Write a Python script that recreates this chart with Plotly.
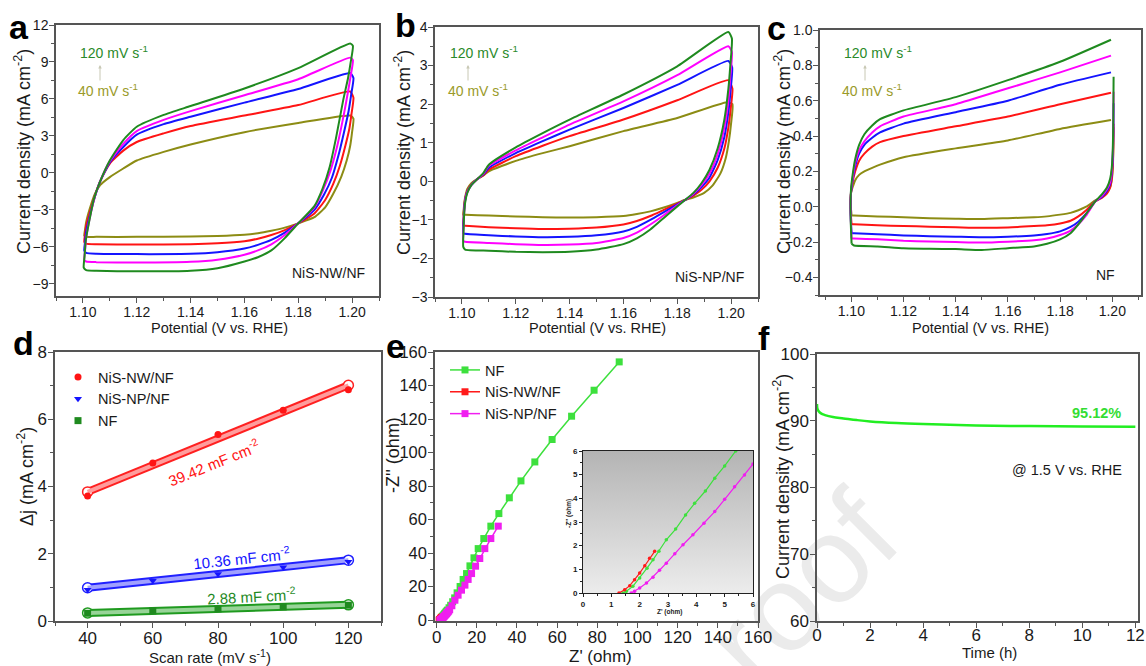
import plotly.graph_objects as go

W, H = 1146, 666
FONT = "Liberation Sans, Arial, sans-serif"

# ---------------- Panel a : NiS-NW/NF CV loops (V vs. RHE, mA cm-2) ----------------
a120_v = [1.1003, 1.1006, 1.101, 1.1015, 1.103, 1.104, 1.1064, 1.11, 1.115, 1.12, 1.13, 1.14, 1.16, 1.18, 1.1993,
          1.2003, 1.1995, 1.1985, 1.1967, 1.194, 1.1917, 1.189, 1.186, 1.18, 1.175, 1.17, 1.165, 1.16, 1.15, 1.14, 1.12, 1.105, 1.1012, 1.1003]
a120_j = [-7.7, -6.8, -5.6, -4.9, -3.2, -2.2, -0.7, 1.0, 2.66, 3.74, 4.7, 5.42, 6.85, 8.5, 10.5,
          10.3, 9.0, 7.7, 5.9, 2.8, 0.5, -1.3, -2.7, -4.1, -5.3, -6.3, -6.85, -7.2, -7.75, -7.95, -8.0, -7.95, -7.9, -7.7]
a100_v = [1.1005, 1.1008, 1.1012, 1.103, 1.1045, 1.1064, 1.11, 1.115, 1.12, 1.13, 1.14, 1.16, 1.18, 1.1993,
          1.2003, 1.1995, 1.1985, 1.197, 1.1945, 1.192, 1.189, 1.186, 1.18, 1.175, 1.17, 1.165, 1.16, 1.15, 1.14, 1.12, 1.105, 1.1012, 1.1005]
a100_j = [-7.1, -6.3, -5.3, -3.2, -1.9, -0.7, 0.95, 2.35, 3.39, 4.3, 5.01, 6.3, 7.6, 9.35,
          9.15, 7.9, 6.6, 4.8, 2.2, 0.2, -1.5, -2.8, -4.1, -5.05, -5.8, -6.3, -6.65, -7.05, -7.22, -7.28, -7.25, -7.2, -7.1]
a80_v = [1.1005, 1.1008, 1.1012, 1.103, 1.1045, 1.1064, 1.11, 1.115, 1.12, 1.13, 1.14, 1.16, 1.18, 1.1993,
         1.2005, 1.1997, 1.1987, 1.197, 1.1948, 1.1925, 1.1895, 1.186, 1.18, 1.175, 1.17, 1.165, 1.16, 1.15, 1.14, 1.12, 1.105, 1.1012, 1.1005]
a80_j = [-6.3, -5.6, -4.8, -3.1, -1.9, -0.7, 0.85, 2.1, 3.1, 3.95, 4.55, 5.7, 6.8, 8.1,
         7.7, 6.4, 5.0, 3.3, 1.3, -0.4, -1.8, -3.0, -4.1, -4.85, -5.45, -5.85, -6.15, -6.45, -6.58, -6.6, -6.58, -6.5, -6.3]
a60_v = [1.1005, 1.1008, 1.1012, 1.103, 1.1045, 1.1064, 1.11, 1.115, 1.12, 1.13, 1.14, 1.16, 1.18, 1.1993,
         1.2005, 1.1998, 1.199, 1.1975, 1.1955, 1.193, 1.19, 1.186, 1.18, 1.175, 1.17, 1.165, 1.16, 1.15, 1.14, 1.12, 1.105, 1.1012, 1.1005]
a60_j = [-5.6, -5.0, -4.3, -2.9, -1.8, -0.7, 0.75, 1.8, 2.5, 3.2, 3.8, 4.65, 5.5, 6.6,
         6.1, 4.8, 3.6, 2.2, 0.6, -0.9, -2.2, -3.3, -4.1, -4.65, -5.05, -5.35, -5.55, -5.72, -5.8, -5.82, -5.8, -5.75, -5.6]
a40_v = [1.1005, 1.1008, 1.1012, 1.103, 1.1045, 1.1064, 1.11, 1.115, 1.12, 1.13, 1.14, 1.16, 1.18, 1.1993,
         1.2005, 1.2, 1.1993, 1.198, 1.196, 1.193, 1.19, 1.186, 1.18, 1.175, 1.17, 1.165, 1.16, 1.15, 1.14, 1.12, 1.105, 1.1012, 1.1005]
a40_j = [-5.1, -4.6, -4.0, -2.6, -1.7, -1.0, -0.35, 0.35, 1.0, 1.7, 2.3, 3.3, 4.05, 4.65,
         4.4, 3.3, 2.2, 1.0, -0.3, -1.7, -2.8, -3.6, -4.1, -4.45, -4.7, -4.9, -5.02, -5.12, -5.17, -5.2, -5.2, -5.2, -5.1]

# ---------------- Panel b : NiS-NP/NF CV loops ----------------
b120_v = [1.1005, 1.1006, 1.1008, 1.1012, 1.102, 1.1035, 1.1056, 1.108, 1.11, 1.12, 1.13, 1.14, 1.16, 1.18, 1.199,
          1.2003, 1.1997, 1.199, 1.1975, 1.195, 1.192, 1.189, 1.186, 1.183, 1.18, 1.175, 1.17, 1.165, 1.16, 1.15, 1.14, 1.13, 1.12, 1.11, 1.1012, 1.1005]
b120_j = [-1.7, -1.3, -0.9, -0.55, -0.3, -0.1, 0.05, 0.22, 0.43, 0.88, 1.25, 1.6, 2.25, 2.98, 3.87,
          3.7, 3.0, 2.4, 1.6, 0.85, 0.3, -0.05, -0.3, -0.48, -0.65, -0.95, -1.25, -1.48, -1.63, -1.77, -1.83, -1.84, -1.83, -1.8, -1.77, -1.7]
b100_v = b120_v
b100_j = [-1.55, -1.2, -0.85, -0.5, -0.28, -0.1, 0.05, 0.2, 0.4, 0.8, 1.14, 1.47, 2.07, 2.75, 3.5,
          3.35, 2.7, 2.1, 1.4, 0.7, 0.2, -0.1, -0.32, -0.48, -0.62, -0.88, -1.12, -1.33, -1.47, -1.6, -1.64, -1.65, -1.63, -1.6, -1.57, -1.55]
b80_v = [1.1005, 1.1006, 1.1008, 1.1012, 1.102, 1.1035, 1.1056, 1.108, 1.11, 1.12, 1.13, 1.14, 1.16, 1.18, 1.199,
         1.2004, 1.1998, 1.199, 1.1975, 1.195, 1.192, 1.189, 1.186, 1.183, 1.18, 1.175, 1.17, 1.165, 1.16, 1.15, 1.14, 1.13, 1.12, 1.11, 1.1012, 1.1005]
b80_j = [-1.35, -1.05, -0.78, -0.48, -0.27, -0.1, 0.05, 0.18, 0.35, 0.73, 1.04, 1.34, 1.9, 2.5, 3.12,
         2.95, 2.35, 1.8, 1.15, 0.55, 0.1, -0.15, -0.34, -0.48, -0.6, -0.8, -1.0, -1.18, -1.3, -1.4, -1.44, -1.45, -1.43, -1.4, -1.36, -1.35]
b60_v = [1.1005, 1.1006, 1.1008, 1.1012, 1.102, 1.1035, 1.1056, 1.108, 1.11, 1.12, 1.13, 1.14, 1.16, 1.18, 1.199,
         1.2005, 1.1998, 1.199, 1.1975, 1.195, 1.192, 1.189, 1.186, 1.183, 1.18, 1.175, 1.17, 1.165, 1.16, 1.15, 1.14, 1.13, 1.12, 1.11, 1.1012, 1.1005]
b60_j = [-1.15, -0.95, -0.72, -0.45, -0.25, -0.08, 0.05, 0.16, 0.3, 0.65, 0.92, 1.17, 1.6, 2.1, 2.62,
         2.4, 1.85, 1.4, 0.85, 0.35, 0.0, -0.22, -0.37, -0.48, -0.58, -0.74, -0.9, -1.03, -1.12, -1.2, -1.23, -1.24, -1.22, -1.19, -1.15, -1.15]
b40_v = [1.1005, 1.1007, 1.1009, 1.1013, 1.102, 1.1035, 1.1056, 1.108, 1.11, 1.12, 1.13, 1.14, 1.16, 1.18, 1.1985,
         1.2005, 1.2, 1.1992, 1.198, 1.196, 1.193, 1.19, 1.186, 1.183, 1.18, 1.175, 1.17, 1.165, 1.16, 1.15, 1.14, 1.13, 1.12, 1.11, 1.1012, 1.1005]
b40_j = [-0.87, -0.7, -0.55, -0.38, -0.2, -0.05, 0.06, 0.15, 0.26, 0.53, 0.73, 0.91, 1.3, 1.64, 2.05,
         2.0, 1.5, 1.05, 0.6, 0.2, -0.12, -0.3, -0.42, -0.48, -0.56, -0.68, -0.78, -0.85, -0.9, -0.93, -0.94, -0.93, -0.91, -0.89, -0.87, -0.87]

# ---------------- Panel c : NF CV loops (None = gap at the vertex) ----------------
c_up_v = [1.1001, 1.0998, 1.0997, 1.0999, 1.1005, 1.1015, 1.103, 1.105, 1.108, 1.111, 1.12, 1.14, 1.16, 1.18, 1.1995, None,
          1.2005, 1.2004, 1.2002, 1.1998, 1.1992, 1.198, 1.196, 1.1935, 1.19, 1.187, 1.184, 1.18, 1.175, 1.17, 1.16, 1.15, 1.14, 1.13, 1.12, 1.11, 1.101, 1.1001]
c120_j = [-0.21, -0.1, 0.0, 0.1, 0.18, 0.27, 0.35, 0.41, 0.46, 0.495, 0.545, 0.62, 0.716, 0.82, 0.945, None,
          0.735, 0.5, 0.33, 0.22, 0.16, 0.11, 0.07, 0.03, -0.04, -0.1, -0.15, -0.185, -0.21, -0.225, -0.235, -0.245, -0.24, -0.238, -0.235, -0.225, -0.22, -0.21]
c100_j = [-0.18, -0.08, 0.0, 0.09, 0.16, 0.25, 0.32, 0.37, 0.42, 0.455, 0.51, 0.58, 0.67, 0.76, 0.855, None,
          0.65, 0.45, 0.3, 0.2, 0.14, 0.1, 0.06, 0.03, -0.05, -0.1, -0.135, -0.16, -0.18, -0.19, -0.198, -0.203, -0.2, -0.197, -0.193, -0.185, -0.18, -0.18]
c80_j = [-0.15, -0.07, 0.0, 0.08, 0.15, 0.23, 0.3, 0.35, 0.39, 0.42, 0.47, 0.535, 0.6, 0.69, 0.76, None,
         0.585, 0.42, 0.28, 0.19, 0.13, 0.09, 0.055, 0.03, -0.04, -0.085, -0.115, -0.14, -0.155, -0.163, -0.17, -0.173, -0.17, -0.167, -0.163, -0.156, -0.15, -0.15]
c60_j = [-0.1, -0.04, 0.02, 0.08, 0.14, 0.2, 0.26, 0.3, 0.34, 0.365, 0.4, 0.455, 0.51, 0.58, 0.645, None,
         0.47, 0.35, 0.24, 0.16, 0.11, 0.075, 0.05, 0.03, -0.02, -0.055, -0.08, -0.095, -0.105, -0.11, -0.118, -0.12, -0.117, -0.113, -0.11, -0.105, -0.1, -0.1]
c40_j = [-0.05, 0.0, 0.04, 0.08, 0.11, 0.15, 0.18, 0.2, 0.22, 0.238, 0.28, 0.33, 0.375, 0.44, 0.49, None,
         0.45, 0.33, 0.22, 0.15, 0.11, 0.08, 0.055, 0.035, 0.0, -0.02, -0.035, -0.045, -0.055, -0.06, -0.065, -0.07, -0.068, -0.065, -0.06, -0.055, -0.05, -0.05]

# ---------------- Panel d : delta j vs scan rate ----------------
d_rate = [40, 60, 80, 100, 120]
d_nw = [3.72, 4.70, 5.55, 6.27, 6.88]
d_np = [0.93, 1.2, 1.4, 1.6, 1.76]
d_nf = [0.23, 0.3, 0.36, 0.42, 0.47]
d_fit_x = [40, 120]
d_fit_nw = [3.84, 7.01]
d_fit_np = [0.99, 1.81]
d_fit_nf = [0.24, 0.48]

# ---------------- Panel e : Nyquist plots (Z', -Z'') ----------------
e_nf_re = [1.41, 1.53, 1.76, 2.0, 2.26, 2.47, 2.68, 2.94, 3.27, 3.62, 3.94, 4.32, 4.65, 5.0, 5.39, 6.2, 7.0, 8.0, 9.0,
           10.2, 11.7, 13.2, 14.9, 16.6, 18.6, 20.7, 23.5, 27.0, 31.0, 36.2, 42.0, 48.9, 57.5, 67.2, 78.4, 90.9]
e_nf_im = [0.0, 0.07, 0.28, 0.63, 1.05, 1.4, 1.76, 2.25, 2.70, 3.3, 3.79, 4.31, 4.85, 5.37, 6.0, 7.4, 8.9, 11.0, 13.3,
           16.3, 20.1, 24.3, 27.8, 32.4, 37.2, 42.7, 48.7, 56.1, 63.6, 73.0, 83.1, 94.4, 107.8, 121.7, 137.2, 154.1]
e_nw_re = [1.27, 1.47, 1.65, 1.82, 2.0, 2.18, 2.35, 2.53]
e_nw_im = [0.0, 0.14, 0.31, 0.56, 0.84, 1.15, 1.47, 1.76]
e_np_re = [1.7, 1.82, 2.0, 2.24, 2.47, 2.7, 2.94, 3.24, 3.53, 3.88, 4.27, 4.65, 5.0, 5.35, 5.7, 6.0, 6.5, 7.6, 9.1,
           10.7, 12.4, 14.1, 15.7, 17.4, 19.4, 21.5, 24.0, 27.0, 30.7]
e_np_im = [0.0, 0.07, 0.21, 0.42, 0.67, 0.96, 1.26, 1.66, 2.04, 2.46, 2.95, 3.44, 3.96, 4.49, 4.99, 5.45, 6.2, 8.6, 11.9,
           14.9, 17.9, 20.9, 24.3, 27.8, 32.2, 36.8, 42.7, 48.7, 56.1]

# ---------------- Panel f : chronoamperometry ----------------
f_t = [0, 0.01, 0.05, 0.15, 0.3, 0.6, 1.0, 1.5, 2.0, 3.0, 4.0, 5.0, 6.0, 8.0, 10.0, 12.0]
f_j = [92.5, 91.9, 91.5, 91.1, 90.85, 90.55, 90.35, 90.1, 89.9, 89.65, 89.5, 89.4, 89.3, 89.2, 89.15, 89.1]

# colours
G120, M100, B80, R60, O40 = "#1f8a1f", "#ff00ff", "#1414ff", "#ff1414", "#8c8c14"
LIME = "#3de03d"
AX = "#555555"


def px(x):
    return x / W


def py(y):
    return 1 - y / H


fig = go.Figure()


def cv(xa, ya, v, j, color):
    fig.add_trace(go.Scatter(x=v, y=j, mode="lines", line=dict(color=color, width=2, shape="spline", smoothing=0.5),
                             xaxis=xa, yaxis=ya, showlegend=False, hoverinfo="skip", connectgaps=False))


for v, j, c in [(a40_v, a40_j, O40), (a60_v, a60_j, R60), (a80_v, a80_j, B80), (a100_v, a100_j, M100), (a120_v, a120_j, G120)]:
    cv("x", "y", v, j, c)
for v, j, c in [(b40_v, b40_j, O40), (b60_v, b60_j, R60), (b80_v, b80_j, B80), (b100_v, b100_j, M100), (b120_v, b120_j, G120)]:
    cv("x2", "y2", v, j, c)
for j, c in [(c40_j, O40), (c60_j, R60), (c80_j, B80), (c100_j, M100), (c120_j, G120)]:
    cv("x3", "y3", c_up_v, j, c)

# panel d: fit "tubes" + data points
for fy, col, inner in [(d_fit_nw, "#ff2020", "#ff9c9c"), (d_fit_np, "#2020ff", "#a0a0ff"), (d_fit_nf, "#1f9a1f", "#98d498")]:
    fig.add_trace(go.Scatter(x=d_fit_x, y=fy, mode="lines+markers", xaxis="x4", yaxis="y4",
                             line=dict(color=col, width=8),
                             marker=dict(symbol="circle", size=10, color="#ffffff", line=dict(color=col, width=1.5)),
                             showlegend=False, hoverinfo="skip"))
    fig.add_trace(go.Scatter(x=d_fit_x, y=fy, mode="lines", xaxis="x4", yaxis="y4",
                             line=dict(color=inner, width=4), showlegend=False, hoverinfo="skip"))
for yv, col, sym, name in [(d_nw, "#ff1414", "circle", "NiS-NW/NF"), (d_np, "#1414ff", "triangle-down", "NiS-NP/NF"),
                           (d_nf, "#1f8a1f", "square", "NF")]:
    fig.add_trace(go.Scatter(x=d_rate, y=yv, mode="markers", xaxis="x4", yaxis="y4", name=name,
                             marker=dict(symbol=sym, size=7, color=col), legend="legend"))

# panel e
for xr, yi, col, name in [(e_nf_re, e_nf_im, LIME, "NF"), (e_nw_re, e_nw_im, "#ff1a1a", "NiS-NW/NF"),
                          (e_np_re, e_np_im, "#f01ef0", "NiS-NP/NF")]:
    fig.add_trace(go.Scatter(x=xr, y=yi, mode="lines+markers", xaxis="x5", yaxis="y5", name=name,
                             line=dict(color=col, width=1.5), marker=dict(symbol="square", size=7, color=col),
                             legend="legend2"))

# inset background gradient
fig.add_trace(go.Scatter(x=[0, 6, 6, 0, 0], y=[0, 0, 6, 6, 0], mode="lines", fill="toself", xaxis="x7", yaxis="y7",
                         line=dict(width=0), fillgradient=dict(type="vertical", colorscale=[[0, "#ececec"], [1, "#b4b4b4"]]),
                         showlegend=False, hoverinfo="skip"))
for xr, yi, col in [(e_nf_re, e_nf_im, LIME), (e_nw_re, e_nw_im, "#ff1a1a"), (e_np_re, e_np_im, "#f01ef0")]:
    fig.add_trace(go.Scatter(x=xr, y=yi, mode="lines+markers", xaxis="x7", yaxis="y7",
                             line=dict(color=col, width=1.2), marker=dict(symbol="circle", size=3.5, color=col),
                             showlegend=False, hoverinfo="skip"))

# panel f
fig.add_trace(go.Scatter(x=f_t, y=f_j, mode="lines", xaxis="x6", yaxis="y6", line=dict(color="#22ee22", width=2.5, shape="spline"),
                         showlegend=False, hoverinfo="skip"))


def axis(d0, d1, rng, dtick, mdtick, size, anchor, fmt=None, tick0=0, lc=AX, tl=5, ml=3, lw=1.5, weight="normal", so=0):
    return dict(domain=[d0, d1], range=rng, dtick=dtick, tick0=tick0, tickformat=fmt,
                ticks="outside", ticklen=tl, tickwidth=1.2, tickcolor=lc, ticklabelstandoff=so,
                showline=True, linewidth=lw, linecolor=lc, mirror=True,
                showgrid=False, zeroline=False, anchor=anchor,
                tickfont=dict(family=FONT, size=size, color="#1a1a1a", weight=weight),
                minor=dict(dtick=mdtick, tick0=tick0, ticks="outside", ticklen=ml, tickwidth=1, tickcolor=lc, showgrid=False))


TOP, BOT = 14, 17
layout = dict(
    width=W, height=H, margin=dict(l=0, r=0, t=0, b=0), template="none",
    paper_bgcolor="white", plot_bgcolor="rgba(0,0,0,0)", font=dict(family=FONT, color="#1a1a1a"),
    xaxis=axis(px(56), px(379), [1.09, 1.21], 0.02, 0.01, TOP, "y", ".2f", 1.1, so=-3),
    yaxis=axis(py(296), py(25), [-10, 12], 3, 1.5, TOP, "x", so=-2),
    xaxis2=axis(px(435), px(758), [1.09, 1.21], 0.02, 0.01, TOP, "y2", ".2f", 1.1, so=-3),
    yaxis2=axis(py(297), py(27), [-3, 4], 1, 0.5, TOP, "x2", so=-2),
    xaxis3=axis(px(820), px(1141), [1.088, 1.211], 0.02, 0.01, TOP, "y3", ".2f", 1.1, so=-3),
    yaxis3=axis(py(295), py(30), [-0.5, 1.0], 0.2, 0.1, TOP, "x3", ".1f", so=-2),
    xaxis4=axis(px(55), px(381), [30, 130], 20, 10, BOT, "y4", so=-4),
    yaxis4=axis(py(621), py(352), [0, 8], 2, 1, BOT, "x4", so=-2),
    xaxis5=axis(px(435), px(758), [-0.8, 160], 20, 10, BOT, "y5", so=-5),
    yaxis5=axis(py(621), py(352), [-0.5, 160], 20, 10, 16.5, "x5", so=-2),
    xaxis6=axis(px(817), px(1138), [0, 12.1], 2, 1, BOT, "y6", so=-7),
    yaxis6=axis(py(621), py(354), [60, 100], 10, 5, BOT, "x6", so=-2),
    xaxis7=axis(px(583), px(753), [0, 6], 1, 0.5, 8, "y7", lc="#222", tl=3, ml=2, lw=1, weight="bold"),
    yaxis7=axis(py(593), py(451), [0, 6], 1, 0.5, 8, "x7", lc="#222", tl=3, ml=2, lw=1, weight="bold"),
    legend=dict(x=px(58), y=py(361), xanchor="left", yanchor="top", bgcolor="rgba(0,0,0,0)",
                font=dict(family=FONT, size=14.5, color="#1a1a1a"), tracegroupgap=0),
    legend2=dict(x=px(445), y=py(354), xanchor="left", yanchor="top", bgcolor="rgba(0,0,0,0)",
                 font=dict(family=FONT, size=14.5, color="#1a1a1a"), tracegroupgap=0),
    # faint "roof" watermark drawn underneath everything
    shapes=[dict(type="rect", xref="paper", yref="paper", x0=px(643), x1=px(943), y0=py(730), y1=py(430),
                 line=dict(width=0), fillcolor="rgba(0,0,0,0)", layer="below",
                 label=dict(text="roof", textangle=-45, textposition="middle center",
                            font=dict(family=FONT, size=122, color="#ebebeb")))],
)
fig.update_layout(**layout)

ann = []


def txt(x, y, text, size=14, color="#1a1a1a", xanchor="center", yanchor="middle", angle=0, bold=False):
    ann.append(dict(x=px(x), y=py(y), xref="paper", yref="paper", text=text, showarrow=False, xanchor=xanchor,
                    yanchor=yanchor, textangle=angle,
                    font=dict(family=FONT, size=size, color=color, weight="bold" if bold else "normal")))


# panel letters
for x, y, t in [(19, 27, "a"), (405, 25, "b"), (776, 28, "c"), (23, 343, "d"), (395, 346, "e"), (764, 338, "f")]:
    txt(x, y, t, size=34, color="black", bold=True)

# axis titles
CD = "Current density (mA cm<sup>-2</sup>)"
POT = "Potential (V vs. RHE)"
txt(23, 152, CD, size=18, angle=-90)
txt(403, 152, CD, size=18, angle=-90)
txt(783, 152, CD, size=18, angle=-90)
txt(219, 328, POT, size=14.5)
txt(597, 328, POT, size=14.5)
txt(980, 328, POT, size=14.5)
txt(25, 477, "Δj (mA cm<sup>-2</sup>)", size=18, angle=-90)
txt(210, 656, "Scan rate (mV s<sup>-1</sup>)", size=15)
txt(393, 455, "-Z'' (ohm)", size=18, angle=-90)
txt(600, 656, "Z' (ohm)", size=17)
txt(781, 477, CD, size=18, angle=-90)
txt(989, 652, "Time (h)", size=15)
txt(669, 612, "Z' (ohm)", size=6.5, bold=True)
txt(569, 514, "-Z'' (ohm)", size=6.5, angle=-90, bold=True)

# scan-rate labels + arrows
for x0, ax in [(78, 100), (448, 468), (842, 865)]:
    txt(x0, 52, "120 mV s<sup>-1</sup>", size=14, color="#2a8a2a", xanchor="left")
    txt(x0 - 2, 90, "40 mV s<sup>-1</sup>", size=14, color="#9a9a2a", xanchor="left")
    ann.append(dict(x=px(ax), y=py(65), xref="paper", yref="paper", ax=0, ay=17, axref="pixel", ayref="pixel",
                    showarrow=True, arrowhead=2, arrowsize=0.7, arrowwidth=1, arrowcolor="#c8c8b4", text=""))

txt(367, 273, "NiS-NW/NF", size=14, xanchor="right")
txt(746, 277, "NiS-NP/NF", size=14, xanchor="right")
txt(1117, 275, "NF", size=14, xanchor="right")

# panel d slopes
txt(213, 462, "39.42 mF cm<sup>-2</sup>", size=15, color="#ff1414", angle=-22)
txt(241, 557, "10.36 mF cm<sup>-2</sup>", size=15, color="#1414ff", angle=-6)
txt(251, 595, "2.88 mF cm<sup>-2</sup>", size=15, color="#1f8a1f", angle=-3)

# panel f
txt(1123, 413, "95.12%", size=14.5, color="#33dd33", xanchor="right", bold=True)
txt(1067, 470, "@ 1.5 V vs. RHE", size=14.5)

fig.update_layout(annotations=ann)
fig.write_html("out.html", config={"displayModeBar": False},
               post_script="document.body.style.margin='0';document.body.style.overflow='hidden';")
